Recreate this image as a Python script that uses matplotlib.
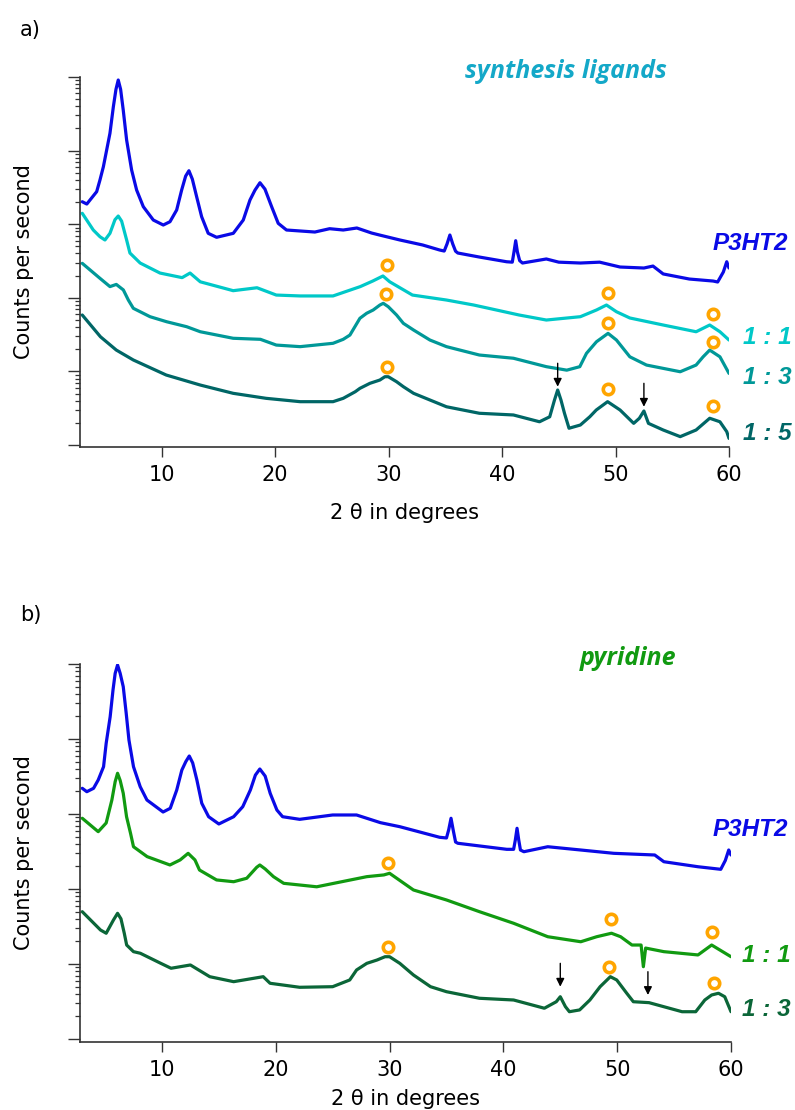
import matplotlib
matplotlib.use("Agg")
import matplotlib.pyplot as plt
from matplotlib.ticker import LogLocator, NullFormatter, FixedLocator

# ---------------- data: panel a (synthesis ligands) ----------------
a_p3ht2_x = [3.0, 3.4, 4.27, 4.56, 4.86, 5.15, 5.44, 5.74, 5.97, 6.17, 6.38, 6.61, 6.91, 7.35, 7.79, 8.38, 9.26,
             10.14, 10.73, 11.32, 11.76, 12.11, 12.40, 12.70, 13.08, 13.52, 14.1, 14.84, 16.31, 17.19, 17.78,
             18.22, 18.66, 19.1, 19.69, 20.27, 21.0, 23.5, 24.8, 26.0, 27.2, 28.5, 29.2, 31.0, 33.0, 34.5,
             34.9, 35.15, 35.4, 35.65, 35.9, 36.1, 38.0, 40.4, 40.9, 41.05, 41.2, 41.35, 41.55, 41.8, 43.9,
             45.0, 46.9, 48.6, 50.4, 52.5, 53.3, 54.2, 56.5, 58.6, 59.0, 59.5, 59.8, 60.0]
a_p3ht2_y = [2020, 1880, 2770, 3990, 6040, 10190, 17200, 39500, 68000, 91000, 68000, 35600, 13900, 5450, 2915, 1730, 1140,
             975, 1081, 1560, 2915, 4500, 5330, 4100, 2365, 1265, 752, 664, 752, 1140, 2130,
             2900, 3660, 3000, 1730, 1028, 834, 783, 869, 834, 888, 759, 713, 610, 522, 446,
             432, 540, 713, 540, 430, 406, 358, 309, 305, 420, 597, 420, 320, 297, 337,
             305, 297, 305, 262, 254, 270, 211, 180, 169, 164, 224, 309, 254]

a_r11_x = [3.0, 3.97, 4.56, 5.0, 5.44, 5.88, 6.17, 6.47, 6.91, 7.2, 8.1, 9.85, 11.8, 12.5, 13.4, 16.3, 18.4,
           20.1, 22.2, 25.1, 27.5, 28.6, 29.5, 30.1, 32.1, 35.1, 37.5, 39.5, 41.5, 43.9, 46.9, 48.32, 49.2,
           50.08, 51.26, 54.2, 57.1, 58.3, 59.2, 60.0]
a_r11_y = [1406, 834, 676, 610, 752, 1150, 1292, 1100, 610, 406, 297, 217, 188, 217, 165, 125, 137,
           109, 106, 106, 142, 169, 198, 165, 109, 93.3, 79.8, 68.3, 58.4, 49.9, 55.4, 68.3, 79.8,
           64.7, 53.2, 42.7, 34.6, 42.7, 34.6, 26.7]

a_r13_x = [3.0, 4.56, 5.44, 6.0, 6.62, 7.06, 7.5, 8.97, 10.44, 12.2, 13.4, 16.3, 18.7, 20.1, 22.2, 25.1, 26.0,
           26.59, 27.47, 28.06, 28.64, 29.23, 29.53, 29.97, 30.7, 31.3, 32.2, 33.64, 35.1, 38.0, 41.0, 43.9,
           45.7, 46.85, 47.44, 48.32, 49.34, 50.08, 51.26, 52.73, 55.7, 57.1, 57.72, 58.3, 59.2, 60.0]
a_r13_y = [294, 184, 142, 152, 128, 93.3, 72, 55.4, 47.3, 40.5, 34.6, 28.2, 27.3, 22.8, 21.7, 24.1, 27.3,
           31.2, 52.7, 61.6, 68.3, 79.8, 84.2, 75.7, 58.4, 45, 36.5, 26.7, 21.7, 16.7, 15.1, 11.6,
           10.4, 11.6, 17.6, 25.3, 32.9, 26.7, 15.8, 12.2, 9.9, 12.2, 15.8, 19.5, 15.8, 9.4]

a_r15_x = [3.0, 4.6, 6.0, 7.5, 10.4, 13.4, 16.3, 19.2, 22.2, 25.1, 26.0, 27.06, 27.47, 28.35, 29.23, 29.67,
           29.97, 30.7, 31.3, 32.2, 35.1, 38.0, 41.0, 43.3, 44.2, 44.62, 44.9, 45.19, 45.5, 45.9, 46.9,
           47.73, 48.3, 49.3, 50.4, 51.6, 52.1, 52.5, 52.9, 54.2, 55.7, 57.1, 58.3, 59.2, 59.8, 60.0]
a_r15_y = [58.4, 29.6, 19.5, 14.3, 8.93, 6.53, 5.04, 4.31, 3.88, 3.88, 4.31, 5.3, 5.89, 6.89, 7.64, 8.47,
           8.47, 7.25, 6.2, 5.04, 3.31, 2.70, 2.56, 2.07, 2.42, 4.09, 5.59, 4.09, 2.70, 1.69, 1.87,
           2.42, 2.99, 3.88, 2.99, 1.97, 2.31, 2.90, 1.97, 1.60, 1.30, 1.60, 2.31, 2.07, 1.52, 1.23]

a_ring_x = [29.9, 29.8, 29.9, 49.3, 58.6, 49.3, 58.6, 49.3, 58.6]
a_ring_y = [279, 111, 11.6, 117, 59.7, 45, 25.3, 5.71, 3.39]
a_arrow_x = [44.9, 52.5]
a_arrow_top = [12.9, 6.89]
a_arrow_tip = [6.2, 3.31]

# ---------------- data: panel b (pyridine) ----------------
b_p3ht2_x = [3.0, 3.4, 3.99, 4.4, 4.87, 5.1, 5.45, 5.7, 5.89, 6.1, 6.33, 6.6, 6.86, 7.1, 7.5, 8.09, 8.68, 10.1,
             10.73, 11.3, 11.75, 12.1, 12.4, 12.7, 13.07, 13.5, 14.1, 15.0, 16.3, 17.1, 17.77, 18.21, 18.6,
             19.07, 19.51, 20.1, 20.6, 22.1, 25.0, 27.1, 29.2, 30.9, 34.4, 35.0, 35.2, 35.4, 35.6, 35.8,
             36.0, 40.3, 40.9, 41.05, 41.2, 41.35, 41.5, 41.8, 43.9, 46.8, 49.7, 53.3, 54.1, 57.1, 59.1,
             59.5, 59.8, 60.0]
b_p3ht2_y = [2200, 1983, 2200, 2840, 4270, 8770, 19800, 45000, 75000, 97000, 75000, 49800, 22000, 9700, 4270, 2310, 1537, 1063,
             1191, 2090, 3860, 5000, 5930, 4800, 2840, 1389, 920, 736, 920, 1251, 2090, 3300, 3980,
             3200, 1888, 1130, 920, 849, 970, 970, 766, 677, 489, 479, 620, 877, 600, 423,
             407, 338, 338, 450, 645, 450, 331, 314, 366, 331, 299, 284, 231, 198, 183,
             240, 331, 284]

b_r11_x = [3.0, 4.4, 5.1, 5.6, 5.89, 6.1, 6.33, 6.6, 6.89, 7.24, 7.5, 8.7, 10.7, 11.6, 12.3, 12.9, 13.3, 14.8,
           16.3, 17.45, 18.33, 18.6, 19.07, 19.8, 20.7, 23.6, 25.1, 28.0, 29.5, 30.0, 32.1, 35.0, 37.9,
           40.9, 43.9, 46.8, 48.2, 49.5, 50.3, 51.3, 52.1, 52.3, 52.5, 54.1, 57.1, 58.3, 60.0]
b_r11_y = [877, 581, 759, 1537, 2700, 3490, 2800, 1888, 920, 553, 366, 270, 209, 244, 299, 244, 179, 132,
           125, 139, 195, 209, 185, 146, 119, 107, 119, 146, 154, 162, 97, 71.4, 49.8,
           34.9, 23.1, 19.8, 23.1, 25.7, 23.1, 17.9, 17.9, 9.2, 16.3, 14.6, 13.2, 17.9, 12.5]

b_r13_x = [3.0, 4.6, 5.1, 5.74, 6.1, 6.4, 6.69, 6.9, 7.5, 8.1, 9.9, 10.8, 12.5, 14.2, 16.3, 18.9, 19.5, 22.1,
           25.0, 26.5, 27.1, 28.0, 28.9, 29.6, 30.0, 30.9, 32.1, 33.6, 35.0, 37.9, 40.9, 43.6, 44.65, 45.0,
           45.45, 45.8, 46.7, 47.6, 48.5, 49.4, 49.96, 50.84, 51.42, 52.8, 55.7, 56.9, 57.7, 58.3, 58.9,
           59.45, 60.0]
b_r13_y = [49.8, 28.4, 25.7, 38.6, 47.4, 40.0, 25.7, 17.9, 14.6, 13.9, 10.2, 8.77, 9.7, 6.77, 5.81, 6.77, 5.53, 4.89,
           4.98, 6.12, 8.32, 10.2, 11.3, 12.5, 12.5, 10.2, 7.13, 4.98, 4.27, 3.49, 3.31, 2.57, 3.14, 3.66,
           2.70, 2.31, 2.44, 3.31, 4.98, 6.77, 6.12, 4.07, 3.14, 3.05, 2.31, 2.31, 3.31, 3.86, 4.07,
           3.66, 2.31]

b_ring_x = [29.9, 29.9, 49.5, 58.3, 49.3, 58.5]
b_ring_y = [222, 17.0, 39.8, 26.5, 9.2, 5.63]
b_arrow_x = [45.0, 52.7]
b_arrow_top = [10.2, 7.89]
b_arrow_tip = [4.98, 3.86]

x_ticks = [10, 20, 30, 40, 50, 60]

# ---------------- styles ----------------
BLUE = "#0a0ae6"
CYAN = "#00c8c8"
TEAL = "#009898"
DTEAL = "#006666"
GREEN = "#119a11"
DGREEN = "#0b6638"
ORANGE = "#ffa500"
AXC = "#333333"

W, H = 795, 1110
fig = plt.figure(figsize=(W / 100, H / 100), dpi=100)


def fx(px):
    return px / W


def fy(py):
    return 1 - py / H


def setup(ax, ylim, xlabelpad):
    ax.set_yscale("log")
    ax.set_xlim(2.8, 60)
    ax.set_ylim(*ylim)
    for s in ("top", "right"):
        ax.spines[s].set_visible(False)
    for s in ("left", "bottom"):
        ax.spines[s].set_color(AXC)
        ax.spines[s].set_linewidth(1.2)
    ax.yaxis.set_major_locator(LogLocator(base=10, numticks=10))
    ax.yaxis.set_minor_locator(LogLocator(base=10, subs=range(2, 10), numticks=20))
    ax.yaxis.set_major_formatter(NullFormatter())
    ax.yaxis.set_minor_formatter(NullFormatter())
    ax.tick_params(axis="y", which="major", length=8.5, width=1.0, color=AXC, direction="out")
    ax.tick_params(axis="y", which="minor", length=3.5, width=0.9, color=AXC, direction="out")
    ax.xaxis.set_major_locator(FixedLocator(x_ticks))
    ax.tick_params(axis="x", which="major", length=7, width=1.0, color=AXC, direction="out",
                   labelsize=15, pad=6)
    ax.tick_params(axis="x", which="minor", length=0)
    ax.set_xlabel("2 θ in degrees", fontsize=15, labelpad=xlabelpad)
    ax.set_ylabel("Counts per second", fontsize=15)
    ax.yaxis.set_label_coords(-0.071, 0.5)


def rings(ax, xs, ys):
    ax.plot(xs, ys, linestyle="none", marker="o", markersize=7.5, markerfacecolor="none",
            markeredgecolor=ORANGE, markeredgewidth=2.6, zorder=5)


def arrows(ax, xs, tops, tips):
    for x, t, b in zip(xs, tops, tips):
        ax.annotate("", xy=(x, b), xytext=(x, t),
                    arrowprops=dict(arrowstyle="-|>", color="black", lw=1.0,
                                    mutation_scale=12, shrinkA=0, shrinkB=0), zorder=6)


LW = 2.3
line_kw = dict(lw=LW, solid_joinstyle="round", solid_capstyle="round")
lab_font = dict(family="Liberation Sans", fontweight="bold", fontstyle="italic", fontsize=17.5)

# panel a
ax1 = fig.add_axes([fx(80), fy(447), fx(729) - fx(80), fy(77) - fy(447)])
setup(ax1, (0.94, 1e5), 13)
ax1.plot(a_p3ht2_x, a_p3ht2_y, color=BLUE, **line_kw)
ax1.plot(a_r11_x, a_r11_y, color=CYAN, **line_kw)
ax1.plot(a_r13_x, a_r13_y, color=TEAL, **line_kw)
ax1.plot(a_r15_x, a_r15_y, color=DTEAL, **line_kw)
rings(ax1, a_ring_x, a_ring_y)
arrows(ax1, a_arrow_x, a_arrow_top, a_arrow_tip)

# panel b
ax2 = fig.add_axes([fx(80), fy(1041.7), fx(731) - fx(80), fy(664) - fy(1041.7)])
setup(ax2, (0.92, 1e5), 6.5)
ax2.plot(b_p3ht2_x, b_p3ht2_y, color=BLUE, **line_kw)
ax2.plot(b_r11_x, b_r11_y, color=GREEN, **line_kw)
ax2.plot(b_r13_x, b_r13_y, color=DGREEN, **line_kw)
rings(ax2, b_ring_x, b_ring_y)
arrows(ax2, b_arrow_x, b_arrow_top, b_arrow_tip)

# labels
fig.text(fx(713), fy(243), "P3HT2", color=BLUE, va="center", ha="left", **lab_font)
fig.text(fx(743), fy(337), "1 : 1", color=CYAN, va="center", ha="left", **lab_font)
fig.text(fx(743), fy(377), "1 : 3", color=TEAL, va="center", ha="left", **lab_font)
fig.text(fx(743), fy(433), "1 : 5", color=DTEAL, va="center", ha="left", **lab_font)

fig.text(fx(713), fy(830), "P3HT2", color=BLUE, va="center", ha="left", **lab_font)
fig.text(fx(742), fy(955), "1 : 1", color=GREEN, va="center", ha="left", **lab_font)
fig.text(fx(742), fy(1009), "1 : 3", color=DGREEN, va="center", ha="left", **lab_font)

title_font = dict(family="Open Sans", fontweight="bold", fontstyle="italic", fontsize=18)
fig.text(fx(465), fy(78), "synthesis ligands", color="#14a8c8", va="baseline", ha="left", **title_font)
fig.text(fx(580), fy(665), "pyridine", color="#119a11", va="baseline", ha="left", **title_font)

fig.text(fx(20), fy(30), "a)", fontsize=15, va="center", ha="left")
fig.text(fx(20), fy(615), "b)", fontsize=15, va="center", ha="left")

fig.savefig("out.png", dpi=100)
